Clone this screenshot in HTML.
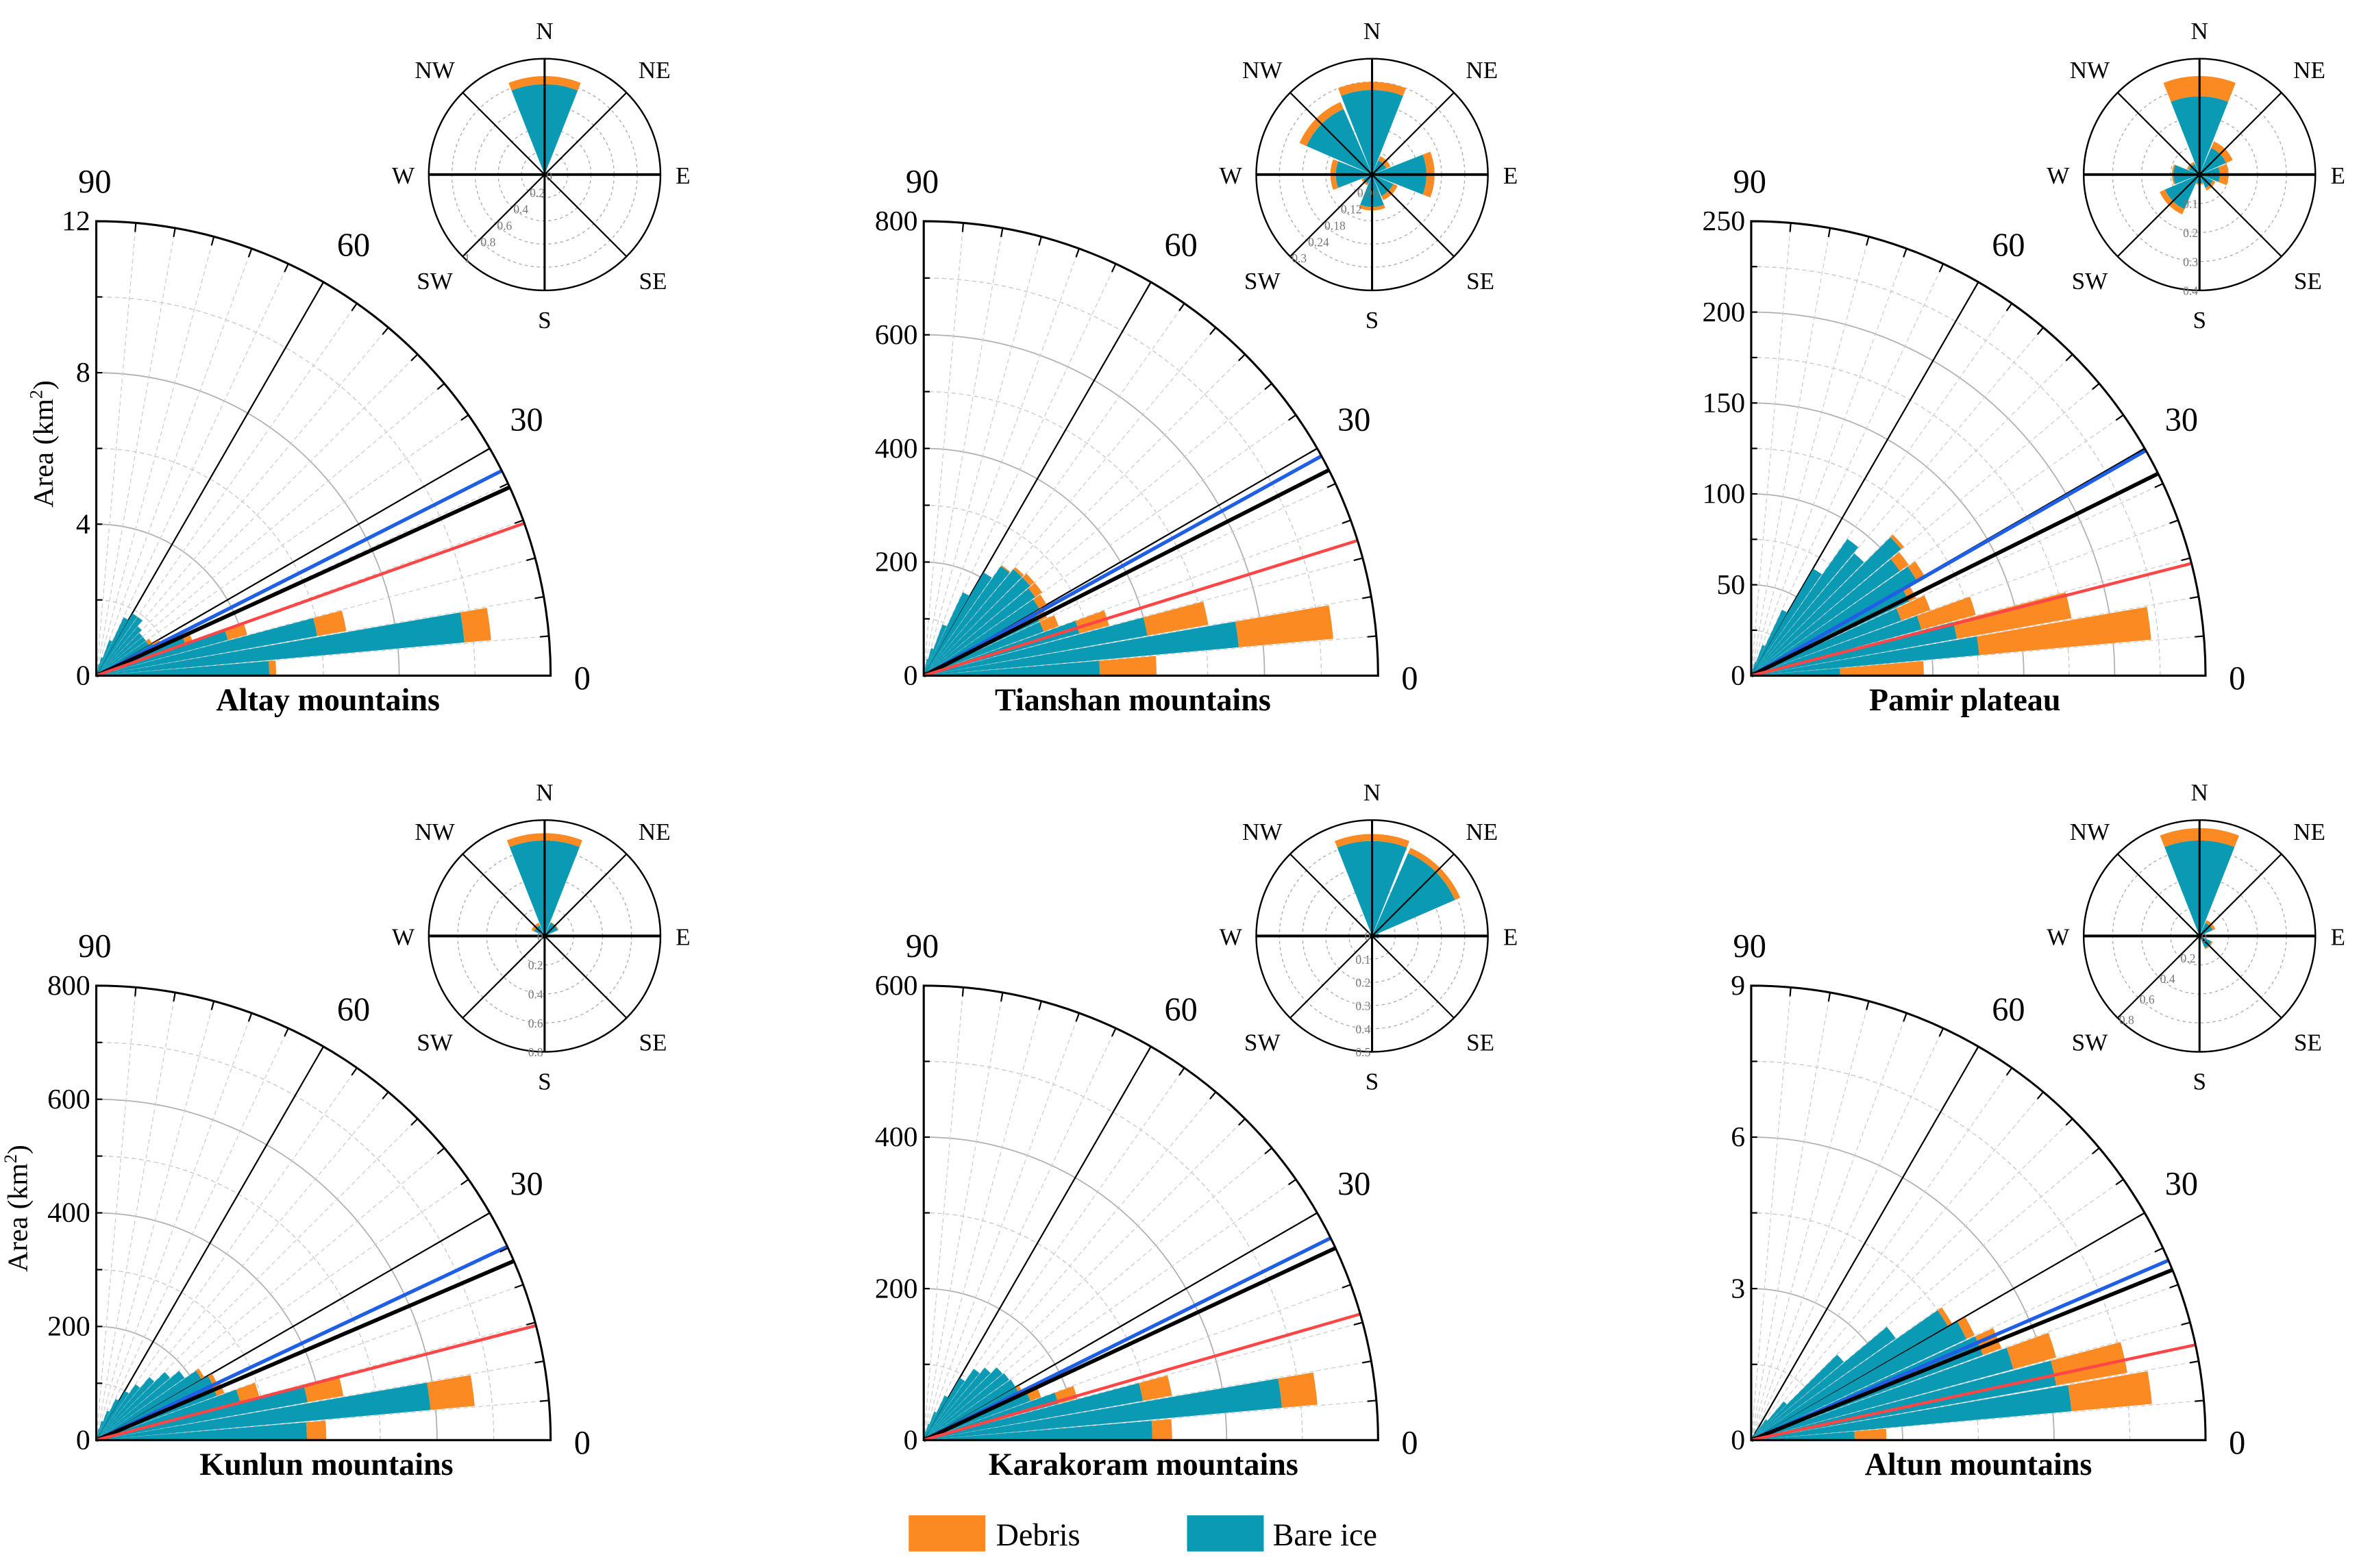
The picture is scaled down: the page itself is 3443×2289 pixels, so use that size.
<!DOCTYPE html>
<html><head><meta charset="utf-8">
<style>
html,body{margin:0;padding:0;background:#fff;}
svg{display:block;}
text{font-family:"Liberation Serif",serif;}
</style></head>
<body>
<svg id="fig" xmlns="http://www.w3.org/2000/svg" width="3443" height="2289" viewBox="0 0 1568 1042" preserveAspectRatio="none">
<rect x="0" y="0" width="1568" height="1042" fill="#fff"/>
<g id="legend">
  <rect x="604" y="1007" width="51" height="24" fill="#FB8A22"/>
  <text x="662" y="1027" font-size="21">Debris</text>
  <rect x="789" y="1007" width="51" height="24" fill="#0A9AB4"/>
  <text x="846" y="1027" font-size="21">Bare ice</text>
</g>
</svg>
<script>
// ---- Slope-area data (5° bins, 0..90) ----
const altayIce=[4.57,9.76,5.93,3.6,2.5,1.7,1.6,1.6,1.6,1.7,1.9,1.9,1.7,1.0,0.5,0.3,0.1,0.05];
const altayDebris=[0.18,0.71,0.78,0.53,0.2,0.2,0.1,0,0,0,0,0,0,0,0,0,0,0];
const tianshanIce=[310,557,400,284,225,225,235,240,245,245,236,210,162,96,50,30,15,5];
const tianshanDebris=[100,167,109,54,28,15,15,15,10,5,2,0,0,0,0,0,0,0];
const pamirIce=[49,126,115,97,88,96,105,100,108,88,92,68,40,18,8,4,2,1];
const pamirDebris=[46,95,64,31,17,4,5,6,2,0,0,0,0,0,0,0,0,0];
const kunlunIce=[371,591,378,262,226,227,214,190,170,145,120,100,80,55,35,20,10,5];
const kunlunDebris=[34,78,64,35,14,8,6,0,0,0,0,0,0,0,0,0,0,0];
const karakoramIce=[302,475,294,184,150,140,140,138,136,125,115,95,65,40,22,12,6,3];
const karakoramDebris=[26,47,39,26,15,5,0,0,0,0,0,0,0,0,0,0,0,0];
const altunIce=[2.05,6.37,6.14,5.38,4.89,4.71,4.5,3.5,2.4,1.0,0.5,0.3,0.15,0.1,0.05,0,0,0];
const altunDebris=[0.63,1.6,1.43,0.88,0.39,0.18,0.1,0,0,0,0,0,0,0,0,0,0,0];
// y tick labels
const altayTicks=[0,4,8,12];
const tianshanTicks=[0,200,400,600,800];
const pamirTicks=[0,50,100,150,200,250];
const kunlunTicks=[0,200,400,600,800];
const karakoramTicks=[0,200,400,600];
const altunTicks=[0,3,6,9];
// mean slope lines [blue, black, red] in degrees
const altayLines=[26.8,24.5,19.6];
const tianshanLines=[28.9,26.9,17.3];
const pamirLines=[29.7,26.4,14.3];
const kunlunLines=[25.2,23.2,14.6];
const karakoramLines=[26.4,25.0,16.1];
const altunLines=[23.3,22.0,12.1];
// ---- Aspect rose data: N, NE, E, SE, S, SW, W, NW ----
const directions=["N","NE","E","SE","S","SW","W","NW"];
const altayRoseIce=[0.78,0.02,0.01,0.01,0.01,0.01,0.01,0.02];
const altayRoseDebris=[0.07,0,0,0,0,0,0,0];
const altayRoseTicks=[0,0.2,0.4,0.6,0.8,1];
const tianshanRoseIce=[0.219,0.04,0.141,0.06,0.084,0.025,0.094,0.185];
const tianshanRoseDebris=[0.021,0.012,0.021,0.012,0.009,0.005,0.014,0.02];
const tianshanRoseTicks=[0.06,0.12,0.18,0.24,0.3];
const pamirRoseIce=[0.27,0.10,0.07,0.05,0.03,0.13,0.09,0.04];
const pamirRoseDebris=[0.07,0.025,0.03,0.01,0.005,0.02,0.005,0.008];
const pamirRoseTicks=[0.1,0.2,0.3,0.4];
const kunlunRoseIce=[0.66,0.1,0.01,0,0,0,0.01,0.08];
const kunlunRoseDebris=[0.05,0.005,0,0,0,0,0,0.02];
const kunlunRoseTicks=[0,0.2,0.4,0.6,0.8];
const karakoramRoseIce=[0.41,0.39,0.03,0.01,0,0,0.01,0.01];
const karakoramRoseDebris=[0.03,0.025,0,0,0,0,0,0];
const karakoramRoseTicks=[0,0.1,0.2,0.3,0.4,0.5];
const altunRoseIce=[0.66,0.1,0.01,0.09,0.01,0,0,0.01];
const altunRoseDebris=[0.085,0.02,0,0.01,0,0,0,0];
const altunRoseTicks=[0,0.2,0.4,0.6,0.8];

const NS="http://www.w3.org/2000/svg";
const svg=document.getElementById('fig');
const ICE="#0A9AB4", DEB="#FB8A22";
function el(tag,attrs,parent){const e=document.createElementNS(NS,tag);for(const k in attrs)e.setAttribute(k,attrs[k]);(parent||svg).appendChild(e);return e;}
function f(v){return v.toFixed(2);}

function drawPanel(key,ox,oy,ice,deb,ticks,lines,title,titleDx,yTitleDx){
  const R=302, max=ticks[ticks.length-1];
  const g=el('g',{});
  
  
  const rs=v=>v/max*R;
  const P=(r,a)=>[ox+r*Math.cos(a*Math.PI/180), oy-r*Math.sin(a*Math.PI/180)];
  const step=ticks[1]-ticks[0];
  for(let v=step/2; v<max-1e-9; v+=step/2){
    const major=Math.abs(v/step-Math.round(v/step))<1e-6;
    const r=rs(v),a=P(r,0),b=P(r,90);
    const arc=el('path',{d:`M${f(a[0])},${f(a[1])} A${f(r)},${f(r)} 0 0 0 ${f(b[0])},${f(b[1])}`,fill:'none',stroke:major?'#b0b0b0':'#c8c8c8','stroke-width':major?0.8:0.6,'stroke-dasharray':major?'none':'3,2'},g);
    
    
  }
  for(let d=5; d<90; d+=5){
    if(d===30||d===60) continue;
    const a=P(0,d),b=P(R,d);
    const ln=el('line',{x1:f(a[0]),y1:f(a[1]),x2:f(b[0]),y2:f(b[1]),stroke:'#cfcfcf','stroke-width':0.6,'stroke-dasharray':'3,2'},g);
    
    
  }
  [30,60].forEach(d=>{const b=P(R,d);
    const ln=el('line',{x1:ox,y1:oy,x2:f(b[0]),y2:f(b[1]),stroke:'#000','stroke-width':1},g);
    
    
  });
  function sector(r0,r1,a0,a1,color,name){
    const p1=P(r0,a0),p2=P(r1,a0),p3=P(r1,a1),p4=P(r0,a1);
    let d=`M${f(p1[0])},${f(p1[1])} L${f(p2[0])},${f(p2[1])} A${f(r1)},${f(r1)} 0 0 0 ${f(p3[0])},${f(p3[1])} L${f(p4[0])},${f(p4[1])}`;
    if(r0>0) d+=` A${f(r0)},${f(r0)} 0 0 1 ${f(p1[0])},${f(p1[1])}`;
    d+='Z';
    const s=el('path',{d:d,fill:color},g);
    
    
  }
  for(let i=0;i<ice.length;i++){
    const a0=i*5+0.15,a1=i*5+4.85;
    if(ice[i]>0) sector(0,rs(ice[i]),a0,a1,ICE,'bare-ice-bar');
    if(deb[i]>0) sector(rs(ice[i]),rs(ice[i]+deb[i]),a0,a1,DEB,'debris-bar');
  }
  const cols=['#1F5FE6','#000','#FF4545'], names=['bare-ice-mean-line','overall-mean-line','debris-mean-line'], ws=[2.4,2.6,2];
  lines.forEach((ang,j)=>{const b=P(R,ang);
    const ln=el('line',{x1:ox,y1:oy,x2:f(b[0]),y2:f(b[1]),stroke:cols[j],'stroke-width':ws[j]},g);
    
    
  });
  const a=P(R,0),b=P(R,90);
  const outer=el('path',{d:`M${ox},${oy} L${f(a[0])},${f(a[1])} A${R},${R} 0 0 0 ${f(b[0])},${f(b[1])} Z`,fill:'none',stroke:'#000','stroke-width':1.4},g);
  
  
  for(let d=5; d<90; d+=5){const p=P(R,d),q=P(R-6,d);
    const t=el('line',{x1:f(p[0]),y1:f(p[1]),x2:f(q[0]),y2:f(q[1]),stroke:'#000','stroke-width':1},g);
    
    
  }
  for(let v=step/2; v<max-1e-9; v+=step/2){const y=oy-rs(v);
    const t=el('line',{x1:ox,y1:f(y),x2:ox+4,y2:f(y),stroke:'#000','stroke-width':1},g);
    
    
  }
  ticks.forEach(v=>{
    const t=el('text',{x:ox-4,y:f(oy-rs(v)+6),'font-size':19,'text-anchor':'end'},g);
    t.textContent=String(v);
    
    
  });
  [[90,-1,-321],[60,171,-279],[30,286,-163],[0,323,9]].forEach(([lab,dx,dy])=>{
    const t=el('text',{x:ox+dx,y:oy+dy,'font-size':22,'text-anchor':'middle'},g);
    t.textContent=String(lab);
    
    
  });
  const tt=el('text',{x:ox+titleDx,y:oy+23,'font-size':21,'font-weight':'bold','text-anchor':'middle'},g);
  tt.textContent=title;
  
  
  if(yTitleDx){
    const yt=el('text',{x:0,y:0,'font-size':19,'text-anchor':'middle',transform:`translate(${ox-yTitleDx},${oy-154}) rotate(-90)`},g);
    yt.innerHTML='Area (km<tspan font-size="12" dy="-7">2</tspan><tspan dy="7">)</tspan>';
    
    
  }
}

function drawRose(key,cx,cy,ice,deb,ticks,labelDir){
  const R=77,max=ticks[ticks.length-1];
  const g=el('g',{});
  
  
  const rs=v=>v/max*R;
  const P=(r,t)=>[cx+r*Math.sin(t*Math.PI/180), cy-r*Math.cos(t*Math.PI/180)];
  ticks.forEach(v=>{ if(v<=0||v>=max) return;
    const c=el('circle',{cx:cx,cy:cy,r:f(rs(v)),fill:'none',stroke:'#aaa','stroke-width':0.6,'stroke-dasharray':'2,2'},g);
    
    
  });
  function wedge(r0,r1,t0,t1,color,name){
    const p1=P(r0,t0),p2=P(r1,t0),p3=P(r1,t1),p4=P(r0,t1);
    let d=`M${f(p1[0])},${f(p1[1])} L${f(p2[0])},${f(p2[1])} A${f(r1)},${f(r1)} 0 0 1 ${f(p3[0])},${f(p3[1])} L${f(p4[0])},${f(p4[1])}`;
    if(r0>0) d+=` A${f(r0)},${f(r0)} 0 0 0 ${f(p1[0])},${f(p1[1])}`;
    d+='Z';
    const s=el('path',{d:d,fill:color},g);
    
    
  }
  for(let i=0;i<8;i++){
    const t0=i*45-21.5,t1=i*45+21.5;
    if(ice[i]>0) wedge(0,rs(ice[i]),t0,t1,ICE,'rose-bare-ice-'+directions[i]);
    if(deb[i]>0) wedge(rs(ice[i]),rs(ice[i]+deb[i]),t0,t1,DEB,'rose-debris-'+directions[i]);
  }
  for(let i=0;i<4;i++){
    const a=P(R,i*45), b=P(R,i*45+180);
    const ln=el('line',{x1:f(a[0]),y1:f(a[1]),x2:f(b[0]),y2:f(b[1]),stroke:'#000','stroke-width':(i%2===0)?(i===2?1.8:1.4):1},g);
    
    
  }
  const oc=el('circle',{cx:cx,cy:cy,r:R,fill:'none',stroke:'#000','stroke-width':1.1},g);
  
  
  ticks.forEach(v=>{
    const r=rs(v); let x,y,anchor;
    if(labelDir==='S'){x=cx-1;y=cy+r+3;anchor='end';}
    else {const p=P(r,225);x=p[0]+1;y=p[1]+4;anchor='start';}
    const t=el('text',{x:f(x),y:f(y),'font-size':8,fill:'#777','text-anchor':anchor},g);
    t.textContent=String(v);
    
    
  });
  const labs=[["N",0,-90],["NE",73,-64],["E",92,6],["SE",72,76],["S",0,102],["SW",-73,76],["W",-94,6],["NW",-73,-64]];
  labs.forEach(([s,dx,dy])=>{
    const t=el('text',{x:cx+dx,y:cy+dy,'font-size':16,'text-anchor':'middle'},g);
    t.textContent=s;
    
    
  });
}

drawPanel('altay',64,449,altayIce,altayDebris,altayTicks,altayLines,'Altay mountains',154,29);
drawPanel('tianshan',614,449,tianshanIce,tianshanDebris,tianshanTicks,tianshanLines,'Tianshan mountains',139,0);
drawPanel('pamir',1164,449,pamirIce,pamirDebris,pamirTicks,pamirLines,'Pamir plateau',142,0);
drawPanel('kunlun',64,957,kunlunIce,kunlunDebris,kunlunTicks,kunlunLines,'Kunlun mountains',153,46);
drawPanel('karakoram',614,957,karakoramIce,karakoramDebris,karakoramTicks,karakoramLines,'Karakoram mountains',146,0);
drawPanel('altun',1164,957,altunIce,altunDebris,altunTicks,altunLines,'Altun mountains',151,0);

drawRose('altay',362,116,altayRoseIce,altayRoseDebris,altayRoseTicks,'SW');
drawRose('tianshan',912,116,tianshanRoseIce,tianshanRoseDebris,tianshanRoseTicks,'SW');
drawRose('pamir',1462,116,pamirRoseIce,pamirRoseDebris,pamirRoseTicks,'S');
drawRose('kunlun',362,622,kunlunRoseIce,kunlunRoseDebris,kunlunRoseTicks,'S');
drawRose('karakoram',912,622,karakoramRoseIce,karakoramRoseDebris,karakoramRoseTicks,'S');
drawRose('altun',1462,622,altunRoseIce,altunRoseDebris,altunRoseTicks,'SW');
</script>
</body></html>
